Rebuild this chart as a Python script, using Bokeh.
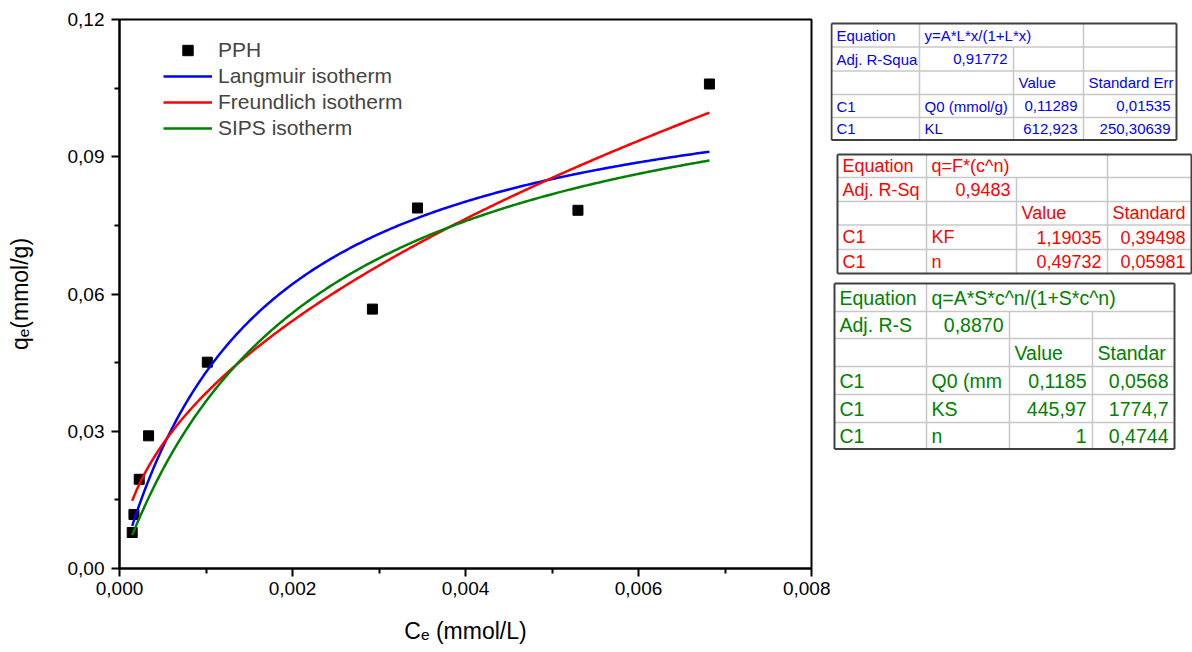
import numpy as np
from bokeh.plotting import figure
from bokeh.models import Range1d, FixedTicker, Legend, LegendItem
from bokeh.layouts import row
from bokeh.core.properties import value
from bokeh.embed import file_html
from bokeh.resources import INLINE

# ---------------- data ----------------
ce = [0.000147, 0.000167, 0.000228, 0.000336, 0.001015, 0.002924, 0.003445, 0.005300, 0.006820]
qe = [0.00787, 0.0118, 0.0195, 0.0290, 0.0451, 0.0567, 0.0788, 0.0783, 0.1059]

x_ticks = [0.0, 0.002, 0.004, 0.006, 0.008]
x_tick_labels = ["0,000", "0,002", "0,004", "0,006", "0,008"]
x_minor = [0.001, 0.003, 0.005, 0.007]
y_ticks = [0.0, 0.03, 0.06, 0.09, 0.12]
y_tick_labels = ["0,00", "0,03", "0,06", "0,09", "0,12"]
y_minor = [0.015, 0.045, 0.075, 0.105]

x_title = "C\u2091 (mmol/L)"
y_title = "q\u2091(mmol/g)"
series_names = ["PPH", "Langmuir isotherm", "Freundlich isotherm", "SIPS isotherm"]

# fitted parameters (as printed in the tables)
langmuir_Q0, langmuir_KL = 0.11289, 612.923
freundlich_KF, freundlich_n = 1.19035, 0.49732
sips_Q0, sips_KS, sips_n = 0.1185, 445.97, 1.0

langmuir_table = [
    ["Equation", "y=A*L*x/(1+L*x)", "", ""],
    ["Adj. R-Squa", "0,91772", "", ""],
    ["", "", "Value", "Standard Err"],
    ["C1", "Q0 (mmol/g)", "0,11289", "0,01535"],
    ["C1", "KL", "612,923", "250,30639"],
]
freundlich_table = [
    ["Equation", "q=F*(c^n)", "", ""],
    ["Adj. R-Sq", "0,9483", "", ""],
    ["", "", "Value", "Standard"],
    ["C1", "KF", "1,19035", "0,39498"],
    ["C1", "n", "0,49732", "0,05981"],
]
sips_table = [
    ["Equation", "q=A*S*c^n/(1+S*c^n)", "", ""],
    ["Adj. R-S", "0,8870", "", ""],
    ["", "", "Value", "Standar"],
    ["C1", "Q0 (mm", "0,1185", "0,0568"],
    ["C1", "KS", "445,97", "1774,7"],
    ["C1", "n", "1", "0,4744"],
]

# fitted model curves from the printed parameters
c_fit = np.linspace(ce[0], ce[-1], 300)
q_langmuir = langmuir_Q0 * langmuir_KL * c_fit / (1 + langmuir_KL * c_fit)
q_freundlich = freundlich_KF * c_fit ** freundlich_n
q_sips = sips_Q0 * sips_KS * c_fit ** sips_n / (1 + sips_KS * c_fit ** sips_n)

FONT = "Liberation Sans"
H = 652
TOP, BOTTOM = 19, 568

# ---------------- main plot ----------------
p = figure(width=830, height=H, output_backend="svg", toolbar_location=None,
           x_range=Range1d(0, 0.008), y_range=Range1d(0, 0.12),
           min_border_left=119, min_border_right=19, min_border_top=TOP,
           min_border_bottom=H - BOTTOM)
p.background_fill_color = "white"
p.border_fill_color = "white"
p.outline_line_color = "black"
p.outline_line_width = 2
p.grid.visible = False

p.xaxis.ticker = FixedTicker(ticks=x_ticks, minor_ticks=x_minor)
p.yaxis.ticker = FixedTicker(ticks=y_ticks, minor_ticks=y_minor)
p.xaxis.major_label_overrides = dict(zip(x_ticks, x_tick_labels))
p.yaxis.major_label_overrides = dict(zip(y_ticks, y_tick_labels))
p.xaxis.axis_label = x_title
p.yaxis.axis_label = y_title
for ax in (p.xaxis, p.yaxis):
    ax.axis_line_width = 2
    ax.axis_line_color = "black"
    ax.major_tick_line_width = 2
    ax.minor_tick_line_width = 2
    ax.major_tick_in = 0
    ax.major_tick_out = 8
    ax.minor_tick_in = 0
    ax.minor_tick_out = 5
    ax.major_label_text_font = FONT
    ax.major_label_text_font_size = "19px"
    ax.major_label_text_color = "black"
    ax.axis_label_text_font = FONT
    ax.axis_label_text_font_size = "23px"
    ax.axis_label_text_font_style = "normal"
    ax.axis_label_text_color = "black"
p.xaxis.major_label_standoff = 5
p.yaxis.major_label_standoff = 7
p.xaxis.axis_label_standoff = 20
p.yaxis.axis_label_standoff = 32

r_pts = p.scatter(ce, qe, marker="square", size=10, color="black")
r_l = p.line(c_fit, q_langmuir, line_color="#0000FF", line_width=2.5)
r_f = p.line(c_fit, q_freundlich, line_color="#FF0000", line_width=2.5)
r_s = p.line(c_fit, q_sips, line_color="#008000", line_width=2.5)

legend = Legend(items=[LegendItem(label=series_names[0], renderers=[r_pts]),
                       LegendItem(label=series_names[1], renderers=[r_l]),
                       LegendItem(label=series_names[2], renderers=[r_f]),
                       LegendItem(label=series_names[3], renderers=[r_s])],
                location=(44, 427), glyph_width=49, glyph_height=26, label_height=26,
                label_standoff=6, spacing=0, padding=0, margin=0,
                border_line_color=None, background_fill_alpha=0,
                label_text_font=FONT, label_text_font_size="21px")
p.add_layout(legend)

# ---------------- tables ----------------
# (the row layout aligns this frame with the main plot's frame: TOP..BOTTOM)
t = figure(width=362, height=H, output_backend="svg", toolbar_location=None, title=None,
           x_range=Range1d(830, 1192), y_range=Range1d(BOTTOM, TOP),
           min_border=0, x_axis_location=None, y_axis_location=None)
t.outline_line_color = None
t.grid.visible = False
t.background_fill_color = "white"
t.border_fill_color = "white"

table_specs = [
    (langmuir_table, "#0000FF", "15px", [831, 919, 1013, 1083, 1176],
     [23, 46.5, 70.5, 94, 117, 139.5], {2}),
    (freundlich_table, "#FF0000", "18px", [837, 926, 1016, 1107, 1191],
     [154, 177, 201, 224.5, 249, 273], {2}),
    (sips_table, "#008000", "19.5px", [834, 926, 1009, 1092, 1174],
     [283, 311, 338, 366, 394, 422, 448.5], {2, 3}),
]

for rows_, color, fsize, cols, rws, merged in table_specs:
    t.quad(left=[cols[0]], right=[cols[-1]], top=[rws[0]], bottom=[rws[-1]],
           fill_color="white", line_color=None)
    hx0, hx1, hy = [], [], []
    for yb in rws[1:-1]:
        hx0.append(cols[0]); hx1.append(cols[-1]); hy.append(yb)
    t.segment(x0=hx0, x1=hx1, y0=hy, y1=hy, line_color="#c8c8c8", line_width=1.5)
    vx, vy0, vy1 = [], [], []
    for j in range(1, len(cols) - 1):
        for r in range(len(rws) - 1):
            if r == 0 and j in merged:
                continue
            vx.append(cols[j]); vy0.append(rws[r]); vy1.append(rws[r + 1])
    t.segment(x0=vx, x1=vx, y0=vy0, y1=vy1, line_color="#c8c8c8", line_width=1.5)
    t.segment(x0=[cols[0], cols[0], cols[-1], cols[0]], x1=[cols[-1], cols[0], cols[-1], cols[-1]],
              y0=[rws[0], rws[0], rws[0], rws[-1]], y1=[rws[0], rws[-1], rws[-1], rws[-1]],
              line_color="#404040", line_width=2)
    lx, ly, lt, rx, ry, rt = [], [], [], [], [], []
    for r, cells in enumerate(rows_):
        yc = (rws[r] + rws[r + 1]) / 2
        for j, s in enumerate(cells):
            if not s:
                continue
            if s[0].isdigit():
                rx.append(cols[j + 1] - 6); ry.append(yc); rt.append(s)
            else:
                lx.append(cols[j] + 5); ly.append(yc); lt.append(s)
    t.text(x=lx, y=ly, text=lt, text_font=value(FONT), text_font_size=value(fsize),
           text_color=color, text_align="left", text_baseline="middle")
    t.text(x=rx, y=ry, text=rt, text_font=value(FONT), text_font_size=value(fsize),
           text_color=color, text_align="right", text_baseline="middle")

layout = row(p, t)
open("out.html", "w").write(file_html(layout, INLINE))
